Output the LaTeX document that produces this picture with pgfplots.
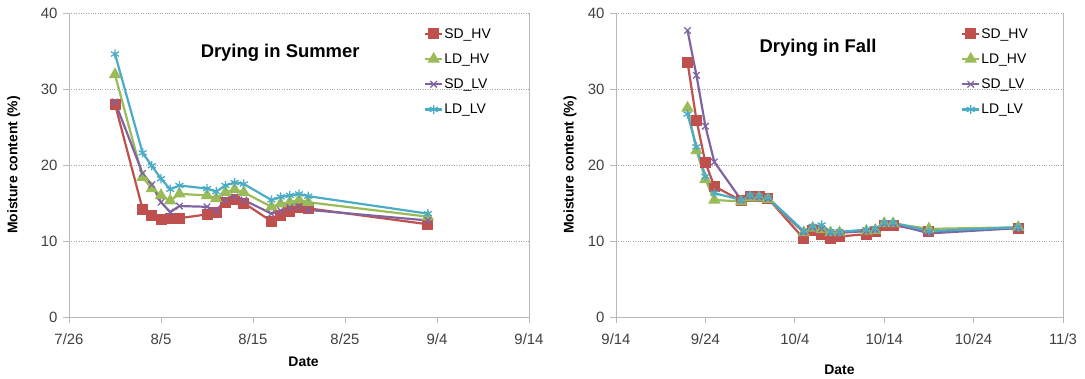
\documentclass[border=0pt]{standalone}
\usepackage{fontspec}
\setmainfont{Liberation Sans}
\usepackage{pgfplots}
\usepackage{pgfplotstable}
\pgfplotsset{compat=1.18}
\definecolor{cSDHV}{HTML}{C0504D}
\definecolor{cLDHV}{HTML}{9BBB59}
\definecolor{cSDLV}{HTML}{8064A2}
\definecolor{cLDLV}{HTML}{4BACC6}

% Summer: day 0 = 7/26
\pgfplotstableread{
day SDHV LDHV SDLV LDLV
5  28.0 31.9 28.3 34.6
8  14.2 18.4 18.9 21.6
9  13.4 16.9 17.4 19.9
10 12.8 16.0 15.1 18.2
11 13.0 15.3 13.8 16.8
12 13.0 16.2 14.6 17.3
15 13.5 16.0 14.5 16.9
16 13.8 15.6 14.0 16.5
17 15.1 16.4 15.4 17.3
18 15.5 16.8 15.8 17.7
19 15.0 16.4 15.4 17.5
22 12.6 14.5 13.6 15.4
23 13.4 14.9 14.0 15.8
24 13.9 15.1 14.4 16.0
25 14.4 15.4 14.5 16.2
26 14.3 15.1 14.1 15.9
39 12.2 13.2 12.7 13.6
}\summer

% Fall: day 0 = 9/14
\pgfplotstableread{
day SDHV LDHV SDLV LDLV
8  33.5 27.5 37.7 26.7
9  25.9 21.9 31.8 22.4
10 20.3 18.1 25.1 18.5
11 17.2 15.4 20.4 16.3
14 15.3 15.2 15.4 15.4
15 15.8 15.7 15.9 16.0
16 15.8 15.7 15.8 15.9
17 15.6 15.5 15.6 15.7
21 10.3 11.1 11.2 11.3
22 11.4 11.7 11.8 11.9
23 10.8 11.5 11.6 12.1
24 10.3 11.1 11.1 11.2
25 10.6 11.1 11.1 11.2
28 10.9 11.3 11.3 11.5
29 11.2 11.4 11.5 11.6
30 12.1 12.3 12.3 12.4
31 12.1 12.3 12.3 12.4
35 11.2 11.6 11.0 11.3
45 11.7 11.8 11.7 11.8
}\fall

\pgfplotsset{
  panel/.style={
    scale only axis, height=304bp,
    xmin=0, xmax=50, ymin=0, ymax=40,
    xtick={0,10,20,30,40,50}, ytick={0,10,20,30,40},
    axis x line=bottom, axis y line=box, ytick pos=left,
    axis line style={-, draw=black!28, line width=0.9bp},
    tick style={draw=black!28, line width=0.9bp},
    tick align=outside, major tick length=6bp,
    ymajorgrids, grid style={dotted, black!35, line width=0.9bp},
    tick label style={font=\fontsize{15}{17}\selectfont, text=black!75},
    xticklabel style={yshift=-7bp},
    yticklabel style={xshift=-2bp},
    /pgf/number format/assume math mode=true,
    label style={font=\bfseries\fontsize{14}{16}\selectfont},
    ylabel={Moisture content (\%)},
    xlabel={Date},
    legend cell align=left,
    legend style={draw=none, fill=none, font=\fontsize{14}{16}\selectfont,
      row sep=12bp, anchor=north west, at={(0.765,0.96)},
      nodes={inner sep=1bp}},
    every axis plot/.append style={line width=2.2bp},
  },
  sdhv/.style={color=cSDHV, mark=square*, mark size=4.4bp, mark options={solid}},
  ldhv/.style={color=cLDHV, mark=triangle*, mark size=5bp, mark options={solid}},
  sdlv/.style={color=cSDLV, mark=x, mark size=4.6bp, mark options={solid, line width=1.3bp}},
  ldlv/.style={color=cLDLV, mark=asterisk, mark size=4.6bp, mark options={solid, line width=1.3bp}},
}

\begin{document}
\begin{tikzpicture}[x=1bp,y=1bp]
\useasboundingbox (0,0) rectangle (1085,378);
\begin{axis}[panel, at={(69bp,61bp)}, anchor=south west, width=460bp,
  xticklabels={7/26,8/5,8/15,8/25,9/4,9/14},
  ylabel style={at={(axis description cs:-0.12,0.5)}, anchor=center},
  xlabel style={at={(axis description cs:0.51,-0.148)}, anchor=center}]
\addplot[sdhv] table[x=day,y=SDHV] {\summer};
\addplot[ldhv] table[x=day,y=LDHV] {\summer};
\addplot[sdlv] table[x=day,y=SDLV] {\summer};
\addplot[ldlv] table[x=day,y=LDLV] {\summer};
\legend{SD\_HV,LD\_HV,SD\_LV,LD\_LV}
\node[font=\bfseries\fontsize{18.5}{20}\selectfont] at (rel axis cs:0.459,0.868) {Drying in Summer};
\end{axis}
\begin{axis}[panel, at={(616bp,61bp)}, anchor=south west, width=447bp,
  xticklabels={9/14,9/24,10/4,10/14,10/24,11/3},
  ylabel style={at={(axis description cs:-0.103,0.5)}, anchor=center},
  xlabel style={at={(axis description cs:0.5,-0.172)}, anchor=center}]
\addplot[sdhv] table[x=day,y=SDHV] {\fall};
\addplot[ldhv] table[x=day,y=LDHV] {\fall};
\addplot[sdlv] table[x=day,y=SDLV] {\fall};
\addplot[ldlv] table[x=day,y=LDLV] {\fall};
\legend{SD\_HV,LD\_HV,SD\_LV,LD\_LV}
\node[font=\bfseries\fontsize{18.5}{20}\selectfont] at (rel axis cs:0.452,0.885) {Drying in Fall};
\end{axis}
\end{tikzpicture}
\end{document}
